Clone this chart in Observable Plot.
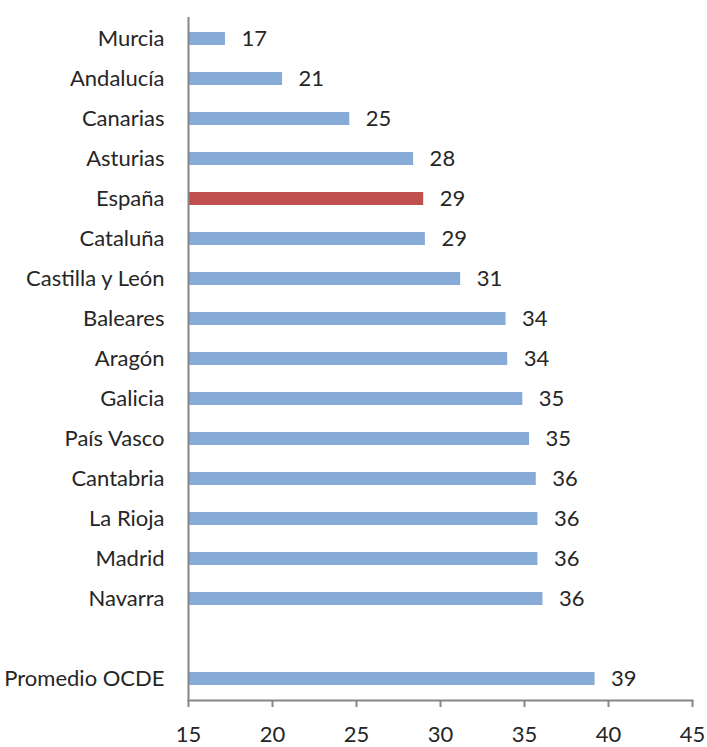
<!DOCTYPE html>
<html><head><meta charset="utf-8">
<script src="https://cdn.jsdelivr.net/npm/d3@7"></script>
<script src="https://cdn.jsdelivr.net/npm/@observablehq/plot@0.6"></script>
<style>body{margin:0;background:#fff}</style>
</head><body><div id="chart"></div>
<script>
const regions = ["Murcia","Andalucía","Canarias","Asturias","España","Cataluña","Castilla y León","Baleares","Aragón","Galicia","País Vasco","Cantabria","La Rioja","Madrid","Navarra","Promedio OCDE"];
const values = [17.2,20.6,24.6,28.4,29.0,29.1,31.2,33.9,34.0,34.9,35.3,35.7,35.8,35.8,36.1,39.2];
const highlight = "España";
const order = [...regions.slice(0,15), " ", "Promedio OCDE"];
const xTicks = [15,20,25,30,35,40,45];
const data = regions.map((r,i)=>({region:r, value:values[i]}));
const font = "Lato, 'Open Sans', sans-serif";
const chart = Plot.plot({
  width: 707, height: 747,
  marginLeft: 188, marginRight: 15, marginTop: 17, marginBottom: 47,
  style: {fontFamily: font, fontSize: "22px", color: "#262626", background: "#fff"},
  x: {domain: [15,45], ticks: xTicks},
  y: {domain: order, paddingInner: 0.68, paddingOuter: 0.34},
  marks: [
    Plot.barX(data, {x1: 15, x2: "value", y: "region", fill: d => d.region === highlight ? "#c0504d" : "#88aad7"}),
    Plot.text(data, {x: "value", y: "region", text: d => d3.format(".0f")(d.value), textAnchor: "start", dx: 16, fontSize: 22, fill: "#262626"}),
    Plot.ruleX([15], {stroke: "#868686", strokeWidth: 2}),
    Plot.frame({anchor: "bottom", stroke: "#868686", strokeWidth: 2}),
    Plot.axisX({ticks: xTicks, tickSize: 7, tickPadding: 19, stroke: "#868686", strokeWidth: 2, label: null, fontSize: 22, color: "#262626"}),
    Plot.axisY({tickSize: 0, tickPadding: 24, label: null, fontSize: 22, tickFormat: d => d})
  ]
});
document.getElementById("chart").append(chart);
</script></body></html>
